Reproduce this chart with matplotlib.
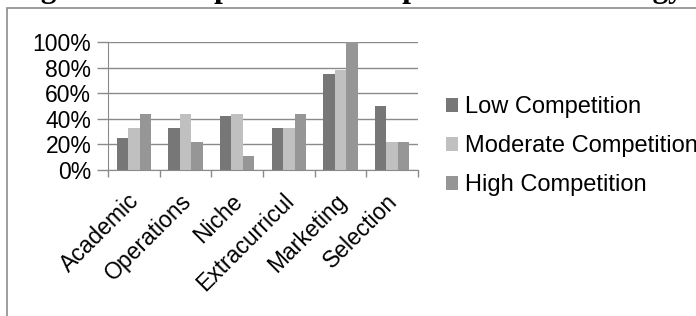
import numpy as np
import matplotlib.pyplot as plt
from matplotlib.patches import Rectangle
from matplotlib.transforms import ScaledTranslation

plt.rcParams['font.family'] = ['Liberation Sans', 'DejaVu Sans']

categories = ['Academic', 'Operations', 'Niche', 'Extracurricul', 'Marketing', 'Selection']
series = ['Low Competition', 'Moderate Competition', 'High Competition']
low = [25, 33, 42, 33, 75, 50]
moderate = [33, 44, 44, 33, 78, 22]
high = [44, 22, 11, 44, 100, 22]
colors = ['#777777', '#c0c0c0', '#969696']

W, H = 696, 316
fig = plt.figure(figsize=(W / 100, H / 100), dpi=100)

# title, mostly cut off at the top of the picture
fig.text(684 / W, 1 + 3 / H, 'Figure 4. Perceptions of Competition and Strategy',
         family='Liberation Serif', weight='bold', fontsize=22.5,
         ha='right', va='baseline')

# outer chart frame
fig.patches.append(Rectangle((7 / W, -0.1), 1.2, 1 - 7.5 / H + 0.1,
                             transform=fig.transFigure, fill=False,
                             edgecolor='#8c8c8c', lw=1.2, zorder=0))

ax = fig.add_axes([108 / W, (H - 170) / H, (418 - 108) / W, 128 / H])

x = np.arange(len(categories))
bw = 0.22
for i, (vals, name) in enumerate(zip([low, moderate, high], series)):
    ax.bar(x + (i - 1) * bw, vals, bw, color=colors[i], label=name, zorder=2)

ax.set_xlim(-0.5, len(categories) - 0.5)
ax.set_ylim(0, 100)
ax.set_yticks(range(0, 101, 20))
ax.set_yticklabels([f'{v}%' for v in range(0, 101, 20)], fontsize=16.5)
ax.yaxis.grid(True, color='#8a8a8a', lw=1, zorder=0)

ax.set_xticks(np.arange(len(categories) + 1) - 0.5)
ax.set_xticklabels([])
ax.set_xticks(x, minor=True)
ax.set_xticklabels(categories, minor=True, rotation=45, ha='right',
                   rotation_mode='anchor', fontsize=16.5)
ax.tick_params(axis='x', which='minor', length=0, pad=14)
ax.tick_params(axis='x', which='major', length=5, color='#8a8a8a', width=1)
ax.tick_params(axis='y', length=8, color='#8a8a8a', width=1, pad=4)
shift = ScaledTranslation(-6 / 100, 0, fig.dpi_scale_trans)
for lbl in ax.get_xticklabels(minor=True):
    lbl.set_transform(lbl.get_transform() + shift)

for s in ['top', 'right']:
    ax.spines[s].set_visible(False)
for s in ['left', 'bottom']:
    ax.spines[s].set_color('#8a8a8a')

fig.legend(loc='upper left', bbox_to_anchor=(437 / W, 1 - 87 / H),
           frameon=False, fontsize=17, handlelength=0.5, handleheight=0.5,
           handletextpad=0.3, labelspacing=0.72, borderaxespad=0)

fig.savefig('out.png', dpi=100)
